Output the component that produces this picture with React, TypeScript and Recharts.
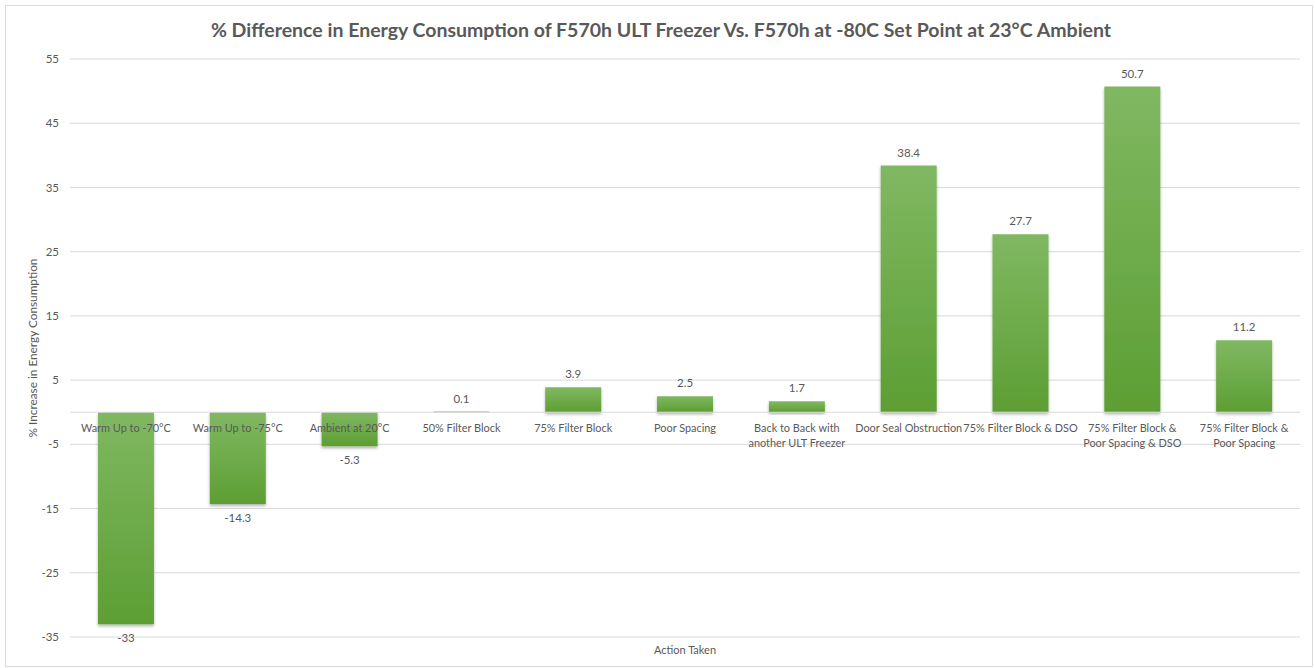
import { BarChart, Bar, XAxis, YAxis, CartesianGrid, ReferenceLine, LabelList } from "recharts";

const categories = [
  "Warm Up to -70°C",
  "Warm Up to -75°C",
  "Ambient at 20°C",
  "50% Filter Block",
  "75% Filter Block",
  "Poor Spacing",
  "Back to Back with\nanother ULT Freezer",
  "Door Seal Obstruction",
  "75% Filter Block & DSO",
  "75% Filter Block &\nPoor Spacing & DSO",
  "75% Filter Block &\nPoor Spacing",
];
const pctDiff = [-33, -14.3, -5.3, 0.1, 3.9, 2.5, 1.7, 38.4, 27.7, 50.7, 11.2];
const yTicks = [-35, -25, -15, -5, 5, 15, 25, 35, 45, 55];

const data = categories.map((name, i) => ({ name, v: pctDiff[i] }));

const txt = "#595959";
const font = "Lato, 'Open Sans', sans-serif";

function edges(p: any) {
  const y = Number(p.y), h = Number(p.height);
  return { top: Math.min(y, y + h), bottom: Math.max(y, y + h), cx: Number(p.x) + Number(p.width) / 2 };
}

function ValueLabel(p: any) {
  const { top, bottom, cx } = edges(p);
  const v = Number(p.value);
  const y = v >= 0 ? top - 9 : bottom + 18;
  return (
    <text x={cx} y={y} textAnchor="middle" fontSize={11.5} fill={txt} fontFamily={font}>
      {v}
    </text>
  );
}

function CategoryLabel(p: any) {
  const { top, bottom, cx } = edges(p);
  const v = pctDiff[p.index];
  const zero = v >= 0 ? bottom : top;
  const lines = String(p.value).split("\n");
  return (
    <text x={cx} y={zero + 20} textAnchor="middle" fontSize={10.9} fill={txt} fontFamily={font}>
      {lines.map((l, i) => (
        <tspan key={i} x={cx} dy={i === 0 ? 0 : 15}>{l}</tspan>
      ))}
    </text>
  );
}

export default function App() {
  return (
    <div style={{ position: "absolute", left: 0, top: 0, width: 1315, height: 668, background: "#fff" }}>
      <div style={{ position: "absolute", left: 5, top: 5, width: 1308, height: 662, border: "1px solid #d9d9d9", boxSizing: "border-box" }} />
      <div style={{ position: "absolute", left: 0, top: 18, width: 1322, textAlign: "center", fontFamily: font, fontWeight: 700, fontSize: 19.5, color: txt }}>
        % Difference in Energy Consumption of F570h ULT Freezer Vs. F570h at -80C Set Point at 23°C Ambient
      </div>
      <div style={{ position: "absolute", left: 0, top: 0 }}>
        <BarChart width={1315} height={668} data={data} margin={{ top: 59, right: 15, bottom: 0, left: 0 }} barCategoryGap="25%">
          <defs>
            <linearGradient id="barGrad" x1="0" y1="0" x2="0" y2="1">
              <stop offset="0%" stopColor="#80b862" />
              <stop offset="100%" stopColor="#5d9e33" />
            </linearGradient>
            <filter id="barShadow" x="-10%" y="-10%" width="120%" height="130%">
              <feDropShadow dx="0" dy="2" stdDeviation="1.5" floodColor="#000" floodOpacity="0.3" />
            </filter>
          </defs>
          <CartesianGrid vertical={false} stroke="#d9d9d9" />
          <XAxis
            dataKey="name"
            tick={false}
            axisLine={false}
            tickLine={false}
            height={31}
            label={{ value: "Action Taken", position: "insideBottom", offset: 14, fill: txt, fontSize: 11, fontFamily: font }}
          />
          <YAxis
            domain={[-35, 55]}
            ticks={yTicks}
            width={70}
            tickSize={0}
            tickMargin={11}
            axisLine={false}
            tickLine={false}
            tick={{ fill: txt, fontSize: 11.5, fontFamily: font }}
            label={{ value: "% Increase in Energy Consumption", angle: -90, position: "insideLeft", offset: 33, fill: txt, fontSize: 11.8, fontFamily: font, style: { textAnchor: "middle" } }}
          />
          <ReferenceLine y={0} stroke="#d9d9d9" />
          <Bar dataKey="v" fill="url(#barGrad)" filter="url(#barShadow)" isAnimationActive={false}>
            <LabelList dataKey="v" content={ValueLabel} />
            <LabelList dataKey="name" content={CategoryLabel} />
          </Bar>
        </BarChart>
      </div>
    </div>
  );
}
